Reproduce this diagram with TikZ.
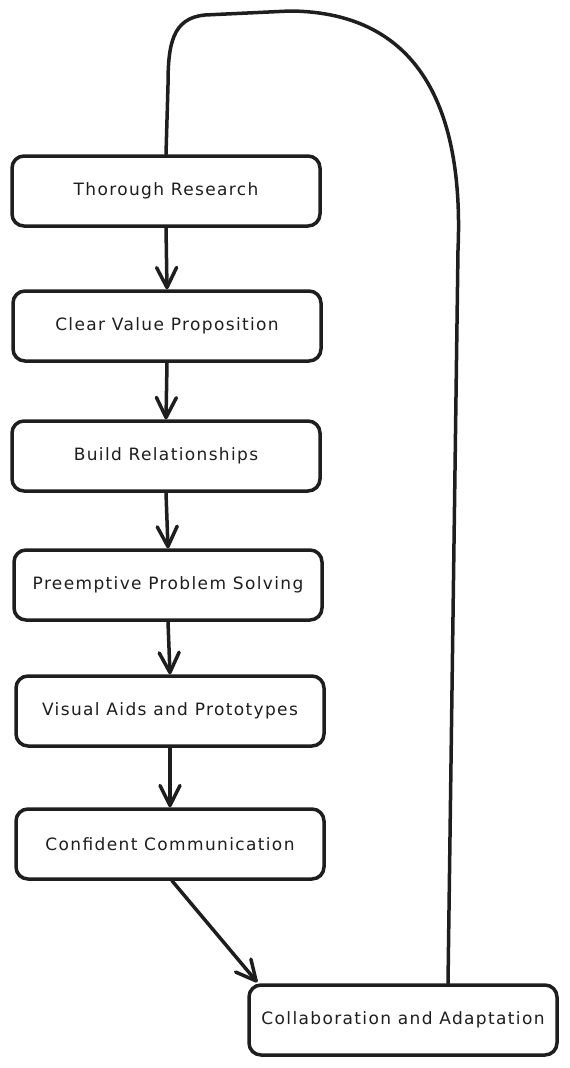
\documentclass[tikz,border=0pt]{standalone}
\usepackage{fontspec}
\setmainfont{DejaVu Sans}[LetterSpace=8]
\usetikzlibrary{arrows.meta,calc}
\definecolor{ink}{HTML}{1E1E1E}
\tikzset{
  box/.style={draw=ink, line width=3.5pt, rounded corners=12pt, minimum width=308pt, minimum height=70pt, fill=white, text=ink, font=\fontsize{17}{20}\selectfont, inner sep=0pt},
  flow/.style={draw=ink, line width=3.5pt, line cap=round, -{Straight Barb[length=20pt,width=20pt,round]}},
  loopline/.style={draw=ink, line width=3.5pt, line cap=round, line join=round}
}
\begin{document}
\begin{tikzpicture}[x=1pt,y=-1pt]
\useasboundingbox (0,0) rectangle (570,1068);
\node[box] (tr) at (166,191) {Thorough Research};
\node[box] (cv) at (167,326) {Clear Value Proposition};
\node[box] (br) at (166,456) {Build Relationships};
\node[box] (pp) at (168,585) {Preemptive Problem Solving};
\node[box] (va) at (170,711) {Visual Aids and Prototypes};
\node[box] (cc) at (170,844) {Confident Communication};
\node[box] (ca) at (403,1020) {Collaboration and Adaptation};
\draw[flow] (tr.south) -- (cv.north);
\draw[flow] (cv.south) -- (br.north);
\draw[flow] (br.south) -- (pp.north);
\draw[flow] (pp.south) -- (va.north);
\draw[flow] (va.south) -- (cc.north);
\draw[flow] ($(cc.south)+(2,0)$) -- ($(ca.north west)+(10,-1)$);
\draw[loopline] ($(ca.north)+(45,0)$) -- (458,250) .. controls (464,110) and (420,12) .. (290,11) -- (205,15) .. controls (172,18) and (168,45) .. (168,85) -- (tr.north);
\end{tikzpicture}
\end{document}
